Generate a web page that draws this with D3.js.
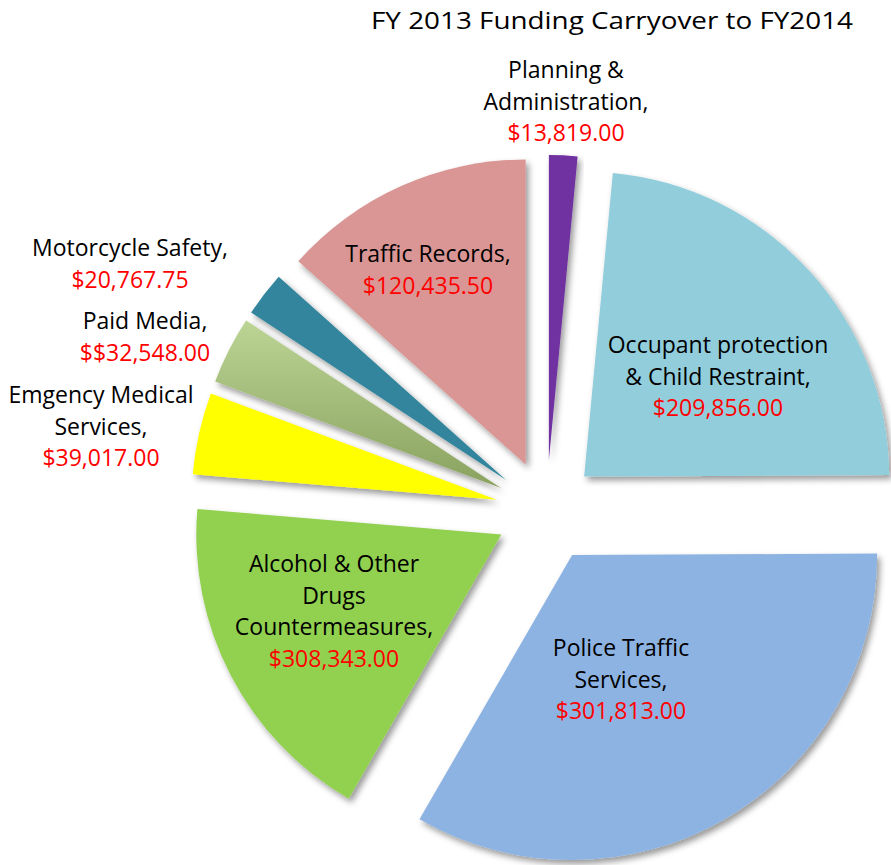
<!DOCTYPE html>
<html><head><meta charset="utf-8">
<script src="https://cdn.jsdelivr.net/npm/d3@7"></script>
<style>body{margin:0;background:#fff;} svg{display:block}</style>
</head><body><svg id="chart" width="891" height="865"></svg>
<script>
// ---- data ----
const chartTitle = "FY 2013 Funding Carryover to FY2014";
const categories = ["Planning & Administration","Occupant protection & Child Restraint","Police Traffic Services","Alcohol & Other Drugs Countermeasures","Emgency Medical Services","Paid Media","Motorcycle Safety","Traffic Records"];
const labelLines = [["Planning &","Administration,"],["Occupant protection","& Child Restraint,"],["Police Traffic","Services,"],["Alcohol & Other","Drugs","Countermeasures,"],["Emgency Medical","Services,"],["Paid Media,"],["Motorcycle Safety,"],["Traffic Records,"]];
const fundingValues = [13819, 209856, 301813, 308343, 39017, 32548, 20767.75, 120435.5];
const amountPrefix = ["","","","","","$","",""];
// share of the circle each slice takes as drawn in the picture (percent)
const sliceShares = [1.5, 23.42, 33.42, 18.0, 4.33, 3.58, 2.36, 13.39];
const sliceColors = ["#7030A0","#92CDDC","#8DB3E2","#92D050","#FFFF00","url(#paidGrad)","#31859C","#D99694"];

// ---- layout ----
const W = 891, H = 865;
const cx = 546.5, cy = 511, R = 305, explode = 51;
const labelAnchors = [[566,78],[718,353],[621,656],[334,572],[101,403],[145,329],[130,256],[428,262]];
const lineStep = 31.5;
const fontFam = "'Open Sans', Carlito, Calibri, sans-serif";

const svg = d3.select("#chart");
const defs = svg.append("defs");
const f = defs.append("filter").attr("id","shadow").attr("x","-20%").attr("y","-20%").attr("width","140%").attr("height","140%");
f.append("feDropShadow").attr("dx",3).attr("dy",4).attr("stdDeviation",3).attr("flood-color","#000").attr("flood-opacity",0.4);
const g1 = defs.append("linearGradient").attr("id","paidGrad").attr("x1",0).attr("y1",0).attr("x2",0).attr("y2",1);
g1.append("stop").attr("offset","0%").attr("stop-color","#BCD494");
g1.append("stop").attr("offset","100%").attr("stop-color","#8AA25F");

const pie = d3.pie().sort(null).value(d => d.share);
const rows = categories.map((c,i) => ({cat:c, share:sliceShares[i], value:fundingValues[i], color:sliceColors[i], lines:labelLines[i], i}));
const arcs = pie(rows);
const arc = d3.arc().innerRadius(0).outerRadius(R);

const pg = svg.append("g").attr("transform",`translate(${cx},${cy})`);
pg.selectAll("path").data(arcs).join("path")
  .attr("d", arc)
  .attr("fill", d => d.data.color)
  .attr("filter","url(#shadow)")
  .attr("transform", d => {
    const m = (d.startAngle + d.endAngle)/2;
    return `translate(${explode*Math.sin(m)},${-explode*Math.cos(m)})`;
  });

// title
svg.append("text").attr("x",371).attr("y",29)
  .attr("font-family",fontFam).attr("font-size",24)
  .attr("textLength",482).attr("lengthAdjust","spacingAndGlyphs")
  .attr("fill","#000").text(chartTitle);

// labels
const fmt = d3.format("$,.2f");
const lg = svg.append("g").attr("font-family",fontFam).attr("font-size",23).attr("text-anchor","middle");
rows.forEach((r,i) => {
  const [x,y] = labelAnchors[i];
  const t = lg.append("text").attr("x",x).attr("y",y);
  r.lines.forEach((ln,k) => {
    t.append("tspan").attr("x",x).attr("y",y + k*lineStep).attr("fill","#000").text(ln);
  });
  t.append("tspan").attr("x",x).attr("y",y + r.lines.length*lineStep).attr("fill","#FF0000")
    .text(amountPrefix[i] + fmt(r.value));
});
</script></body></html>
